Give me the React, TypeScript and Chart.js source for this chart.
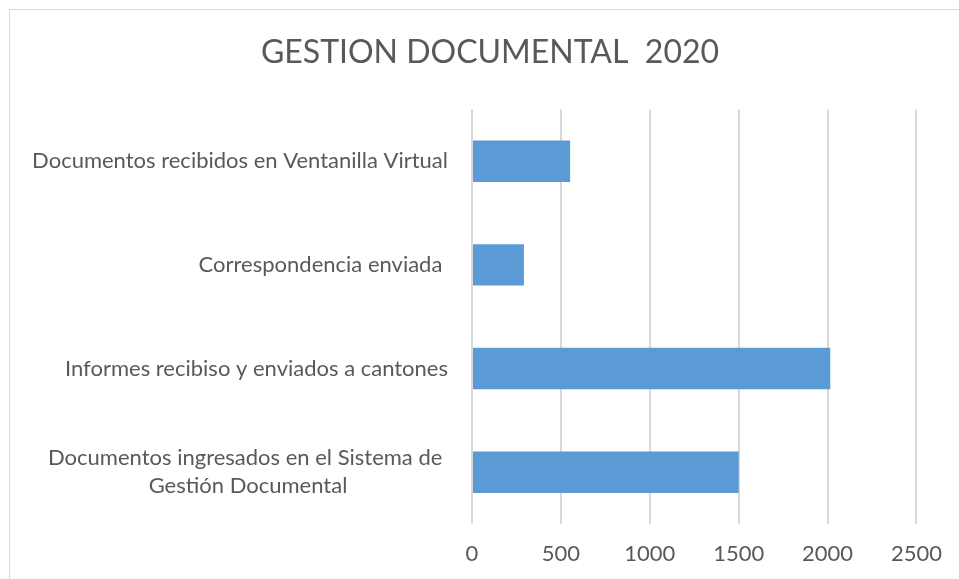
import React, { useEffect, useRef } from "react";
import { Chart, registerables } from "chart.js";

Chart.register(...registerables);

const TITLE = "GESTION DOCUMENTAL  2020";
const categories: string[][] = [
  ["Documentos recibidos en Ventanilla Virtual"],
  ["Correspondencia enviada "],
  ["Informes recibiso y enviados a cantones"],
  ["Documentos ingresados en el Sistema de ", "Gestión Documental"],
];
const values: number[] = [552, 292, 2015, 1500];
const xMin = 0;
const xMax = 2500;
const xStep = 500;

const TEXT_COLOR = "#595959";
const FONT_FAMILY = "Lato, 'Noto Sans', sans-serif";

const framePlugin = {
  id: "frame",
  beforeDraw(chart: any) {
    const ctx = chart.ctx;
    ctx.save();
    ctx.strokeStyle = "#d9d9d9";
    ctx.lineWidth = 1;
    ctx.strokeRect(9.5, 9.5, chart.width + 20, chart.height + 20);
    ctx.restore();
  },
};

const catLabelPlugin = {
  id: "catLabels",
  afterDraw(chart: any) {
    const ctx = chart.ctx;
    const yScale = chart.scales.y;
    const rightEdge = chart.chartArea.left - 24;
    const lineH = 28;
    ctx.save();
    ctx.fillStyle = TEXT_COLOR;
    ctx.font = `22px ${FONT_FAMILY}`;
    ctx.textBaseline = "middle";
    ctx.textAlign = "center";
    categories.forEach((lines, i) => {
      const y = yScale.getPixelForValue(i);
      const maxW = Math.max(...lines.map((l) => ctx.measureText(l).width));
      const cx = rightEdge - maxW / 2;
      const startY = y - ((lines.length - 1) * lineH) / 2;
      lines.forEach((l, j) => ctx.fillText(l, cx, startY + j * lineH));
    });
    ctx.restore();
  },
};

export default function App() {
  const ref = useRef<HTMLCanvasElement | null>(null);
  useEffect(() => {
    if (!ref.current) return;
    const chart = new Chart(ref.current, {
      type: "bar",
      data: {
        labels: categories.map((c) => c.join(" ")),
        datasets: [
          {
            data: values,
            backgroundColor: "#5b9bd5",
            borderWidth: 0,
            barPercentage: 0.4,
            categoryPercentage: 1,
          },
        ],
      },
      options: {
        indexAxis: "y",
        animation: false,
        responsive: false,
        maintainAspectRatio: false,
        layout: { padding: { left: 63, right: 42, top: 0, bottom: 0 } },
        plugins: {
          legend: { display: false },
          tooltip: { enabled: false },
          title: {
            display: true,
            text: TITLE,
            color: TEXT_COLOR,
            font: { family: FONT_FAMILY, size: 32, weight: "normal" },
            padding: { top: 33, bottom: 38 },
          },
        },
        scales: {
          x: {
            min: xMin,
            max: xMax,
            ticks: {
              stepSize: xStep,
              color: TEXT_COLOR,
              font: { family: FONT_FAMILY, size: 22 },
              padding: 17,
              callback: (v: any) => String(v),
            },
            grid: { color: "#d9d9d9", lineWidth: 2, drawTicks: false },
            border: { display: false },
            afterFit(s: any) {
              s.height = 55;
            },
          },
          y: {
            ticks: { display: false },
            grid: { display: false },
            border: { display: false },
            afterFit(s: any) {
              s.width = 409;
            },
          },
        },
      },
      plugins: [framePlugin, catLabelPlugin],
    });
    return () => chart.destroy();
  }, []);
  return (
    <div style={{ position: "fixed", left: 0, top: 0, width: 959, height: 579, background: "#fff" }}>
      <canvas ref={ref} width={959} height={579} style={{ width: 959, height: 579, display: "block" }} />
    </div>
  );
}
